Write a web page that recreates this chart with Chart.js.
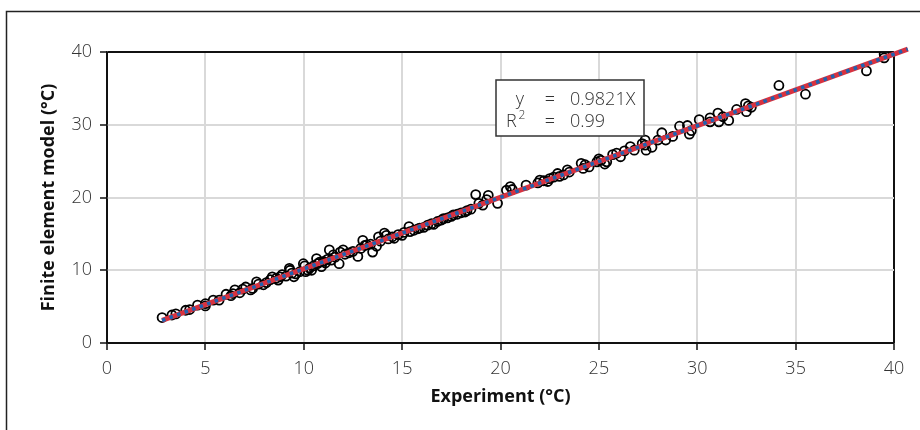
<!DOCTYPE html>
<html>
<head>
<meta charset="utf-8">
<script src="https://cdn.jsdelivr.net/npm/chart.js@4.4.1/dist/chart.umd.min.js"></script>
<style>
html,body{margin:0;padding:0;background:#fff;overflow:hidden;}
#wrap{position:relative;width:920px;height:430px;}
</style>
</head>
<body>
<div id="wrap"><canvas id="c" width="920" height="430"></canvas></div>
<script>
// ---- Data ----
const experimentX = [
  2.8,3.3,3.5,4.0,4.2,4.6,5.0,5.0,5.4,5.7,
  6.05,6.3,6.4,6.5,6.75,6.9,7.05,7.3,7.4,7.6,
  7.7,7.95,8.1,8.3,8.4,8.6,8.7,8.8,8.9,9.1,
  9.27,9.3,9.4,9.5,9.6,9.8,9.98,10.05,10.1,10.2,
  10.3,10.4,10.5,10.65,10.7,10.8,10.9,11.0,11.1,11.2,
  11.3,11.4,11.5,11.6,11.8,11.85,12.0,12.1,12.3,12.5,
  12.75,12.9,13.0,13.1,13.2,13.4,13.5,13.7,13.8,13.9,
  14.1,14.2,14.3,14.5,14.6,14.8,15.0,15.1,15.35,15.4,
  15.6,15.8,15.9,16.1,16.3,16.5,16.6,16.8,17.0,17.1,
  17.3,17.5,17.6,17.8,18.0,18.2,18.3,18.5,18.74,18.9,
  19.1,19.3,19.38,19.85,20.3,20.5,20.6,21.3,21.9,22.0,
  22.2,22.4,22.5,22.7,22.9,23.0,23.2,23.4,23.5,24.1,
  24.2,24.3,24.5,24.9,25.0,25.1,25.3,25.4,25.7,25.9,
  26.1,26.3,26.6,26.8,27.2,27.35,27.35,27.4,27.7,28.0,
  28.2,28.4,28.75,29.1,29.5,29.6,29.7,30.1,30.65,30.65,
  31.05,31.1,31.3,31.6,32.0,32.45,32.5,32.75,32.6,34.15,
  35.5,38.6,39.5,39.5
];
const femY = [
  3.5,3.85,4.0,4.5,4.6,5.2,5.1,5.4,5.9,5.9,
  6.7,6.5,6.8,7.3,6.9,7.4,7.7,7.3,7.5,8.4,
  8.1,8.0,8.3,8.7,9.1,8.9,8.65,9.1,9.4,9.2,
  10.26,10.0,9.6,9.1,9.5,9.8,10.9,10.6,9.8,10.0,
  10.3,10.0,10.6,11.6,10.9,11.1,10.5,11.2,11.0,11.5,
  12.8,11.4,12.1,11.8,10.9,12.5,12.8,12.2,12.4,12.6,
  11.9,13.0,14.1,13.4,13.5,13.6,12.5,13.3,14.6,14.0,
  15.1,14.8,14.3,14.6,14.4,14.9,14.8,15.2,16.0,15.3,
  15.5,15.7,15.8,15.9,16.2,16.4,16.3,16.7,16.9,17.1,
  17.2,17.4,17.6,17.7,17.9,18.0,18.2,18.4,20.4,19.2,
  18.96,19.7,20.3,19.2,21.0,21.5,21.1,21.7,22.0,22.4,
  22.3,22.2,22.6,22.8,23.3,22.9,23.1,23.8,23.5,24.7,
  24.0,24.5,24.2,24.9,25.3,25.1,24.6,24.9,25.9,26.1,
  25.6,26.4,27.0,26.5,27.4,27.9,27.2,26.5,26.9,27.9,
  28.9,27.9,28.4,29.8,29.9,28.7,29.2,30.7,30.95,30.4,
  31.6,30.4,31.1,30.6,32.1,32.9,31.8,32.4,32.6,35.4,
  34.2,37.4,39.7,39.2
];
const trendX = [2.8, 40.7];
const trendY = [3.1, 40.4];
const xTicks = [0,5,10,15,20,25,30,35,40];
const yTicks = [0,10,20,30,40];
const equationLabel = ['y', '=', '0.9821X'];
const r2Label = ['R', '2', '=', '0.99'];
const xTitle = 'Experiment (°C)';
const yTitle = 'Finite element model (°C)';

const scatterPts = experimentX.map((x,i)=>({x:x, y:femY[i]}));
const trendPts = trendX.map((x,i)=>({x:x, y:trendY[i]}));

const framePlugin = {
  id:'frame',
  beforeDraw(chart){
    const ctx = chart.ctx;
    ctx.save();
    ctx.fillStyle = '#fff';
    ctx.fillRect(0,0,chart.width,chart.height);
    ctx.strokeStyle = '#222';
    ctx.lineWidth = 1.5;
    ctx.strokeRect(6.5, 11.5, 2000, 2000);
    ctx.restore();
  }
};

const eqPlugin = {
  id:'eqbox',
  afterDraw(chart){
    const ctx = chart.ctx;
    const a = chart.chartArea;
    const bx = a.left + 389, by = a.top + 28, bw = 148, bh = 56;
    ctx.save();
    ctx.fillStyle = '#fff';
    ctx.fillRect(bx, by, bw, bh);
    ctx.strokeStyle = '#333';
    ctx.lineWidth = 1.5;
    ctx.strokeRect(bx, by, bw, bh);
    ctx.fillStyle = '#333';
    ctx.font = '300 18px "Open Sans"';
    ctx.textBaseline = 'alphabetic';
    ctx.textAlign = 'center';
    const r1 = by + 25, r2 = by + 46.5;
    ctx.fillText(equationLabel[0], bx + 24, r1);
    ctx.fillText(equationLabel[1], bx + 54, r1);
    ctx.textAlign = 'left';
    ctx.fillText(equationLabel[2], bx + 74, r1);
    ctx.fillText(r2Label[0], bx + 10, r2);
    ctx.font = '300 12px "Open Sans"';
    ctx.fillText(r2Label[1], bx + 22.5, r2 - 8);
    ctx.font = '300 18px "Open Sans"';
    ctx.textAlign = 'center';
    ctx.fillText(r2Label[2], bx + 54, r2);
    ctx.textAlign = 'left';
    ctx.fillText(r2Label[3], bx + 74, r2);
    ctx.restore();
  }
};

const gridColor = c => (c.tick && (c.tick.value === 40 || c.tick.value === 0)) ? '#111' : '#d9d9d9';

new Chart(document.getElementById('c'), {
  type: 'scatter',
  data: {
    datasets: [
      {
        label: 'trend-dots',
        data: trendPts,
        showLine: true,
        borderColor: '#1f63b0',
        borderWidth: 3.6,
        borderDash: [3.5, 4.5],
        borderCapStyle: 'butt',
        pointRadius: 0,
        clip: false,
        order: 0
      },
      {
        label: 'trend',
        data: trendPts,
        showLine: true,
        borderColor: '#d8323f',
        borderWidth: 5,
        pointRadius: 0,
        clip: false,
        order: 1
      },
      {
        label: 'points',
        data: scatterPts,
        pointRadius: 4.5,
        pointHoverRadius: 4.5,
        pointBorderWidth: 1.8,
        borderColor: '#000',
        backgroundColor: 'rgba(0,0,0,0)',
        order: 2
      }
    ]
  },
  options: {
    responsive: false,
    animation: false,
    devicePixelRatio: 1,
    layout: { padding: { top: 52, right: 26, left: 0, bottom: 0 } },
    plugins: { legend: { display: false }, tooltip: { enabled: false } },
    scales: {
      x: {
        type: 'linear', min: 0, max: 40,
        afterBuildTicks: s => { s.ticks = xTicks.map(v => ({value: v})); },
        afterFit: s => { s.height = 87; },
        grid: { color: gridColor, lineWidth: 2, tickColor: '#111', tickLength: 7, tickWidth: 1.5 },
        border: { color: '#111', width: 1.5 },
        ticks: { color: '#333', font: { family: '"Open Sans"', size: 18, weight: '300' }, padding: 8, maxRotation: 0 },
        title: { display: true, text: xTitle, color: '#111', font: { family: '"Open Sans"', size: 18, weight: 'bold' }, padding: { top: 0, bottom: 22 } }
      },
      y: {
        type: 'linear', min: 0, max: 40,
        afterBuildTicks: s => { s.ticks = yTicks.map(v => ({value: v})); },
        afterFit: s => { s.width = 107; },
        grid: { color: gridColor, lineWidth: 2, tickColor: '#111', tickLength: 7, tickWidth: 1.5 },
        border: { color: '#111', width: 1.5 },
        ticks: { color: '#333', font: { family: '"Open Sans"', size: 18, weight: '300' }, padding: 8 },
        title: { display: true, text: yTitle, color: '#111', font: { family: '"Open Sans"', size: 18, weight: 'bold' }, padding: { top: 38, bottom: 0 } }
      }
    }
  },
  plugins: [framePlugin, eqPlugin]
});
</script>
</body>
</html>
